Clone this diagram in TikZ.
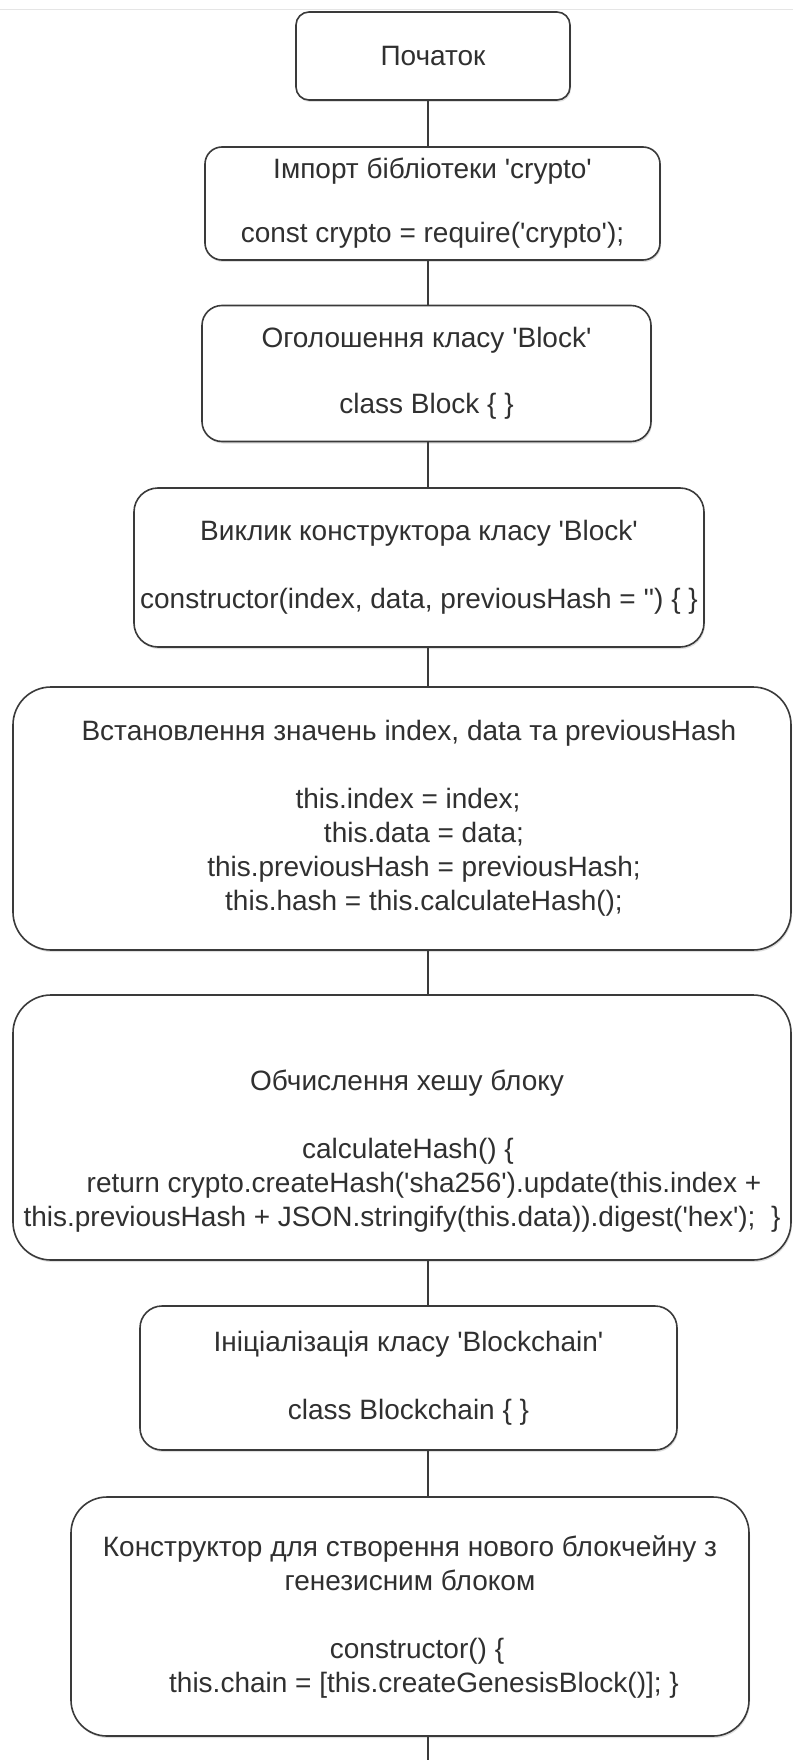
\documentclass[tikz,border=0pt]{standalone}
\usepackage{fontspec}
\setmainfont{Liberation Sans}
\usetikzlibrary{shadows}
\newcommand{\sq}{\textquotesingle}
\definecolor{boxline}{HTML}{3A3A3A}
\definecolor{textgray}{HTML}{303030}
\begin{document}
\begin{tikzpicture}[x=1pt,y=-1pt,
  stepbox/.style={draw=boxline, line width=1.6pt, fill=white, align=center,
    inner sep=0pt, text=textgray, font=\fontsize{28}{34}\selectfont,
    drop shadow={shadow xshift=1pt, shadow yshift=-2pt, opacity=0.25}},
  link/.style={draw=boxline, line width=1.6pt}]
\useasboundingbox (0,0) rectangle (793,1760);
\draw[black!10, line width=1pt] (0,10) -- (793,10);
\coordinate (spine) at (428,0);
\coordinate (tail) at (428,1760);

% flowchart steps, top to bottom
\node[stepbox, minimum width=274pt, minimum height=88pt, rounded corners=13pt] (b1) at (433,56) {Початок};

\node[stepbox, minimum width=455pt, minimum height=113pt, rounded corners=17pt] (b2) at (432.5,203.5)
  {Імпорт бібліотеки \sq crypto\sq\\[30pt]const crypto = require(\sq crypto\sq);};

\node[stepbox, minimum width=449pt, minimum height=136pt, rounded corners=20pt] (b3) at (426.5,373.5)
  {Оголошення класу \sq Block\sq\\[32pt]class Block \{ \}};

\node[stepbox, minimum width=570pt, minimum height=159pt, rounded corners=24pt] (b4) at (419,567.5)
  {Виклик конструктора класу \sq Block\sq\\[34pt]constructor(index, data, previousHash = \sq\sq) \{ \}};

\node[stepbox, minimum width=778pt, minimum height=263pt, rounded corners=38pt] (b5) at (402,818.5)
  {\hspace*{14pt}Встановлення значень index, data та previousHash\\[34pt]
   \hspace*{12pt}this.index = index;\\
   \hspace*{44pt}this.data = data;\\
   \hspace*{44pt}this.previousHash = previousHash;\\
   \hspace*{44pt}this.hash = this.calculateHash();};

\node[stepbox, minimum width=778pt, minimum height=265pt, rounded corners=38pt] (b6) at (402,1127.5)
  {\mbox{}\\[33pt]
   \hspace*{10pt}Обчислення хешу блоку\\[34pt]
   \hspace*{12pt}calculateHash() \{\\
   \hspace*{44pt}return crypto.createHash(\sq sha256\sq).update(this.index +\\
   this.previousHash + JSON.stringify(this.data)).digest(\sq hex\sq);\ \ \}};

\node[stepbox, minimum width=537pt, minimum height=144pt, rounded corners=22pt] (b7) at (408.5,1378)
  {Ініціалізація класу \sq Blockchain\sq\\[34pt]class Blockchain \{ \}};

\node[stepbox, minimum width=678pt, minimum height=239pt, rounded corners=36pt] (b8) at (410,1616.5)
  {Конструктор для створення нового блокчейну з\\
   генезисним блоком\\[34pt]
   \hspace*{14pt}constructor() \{\\
   \hspace*{28pt}this.chain = [this.createGenesisBlock()]; \}};

% connectors along the central spine
\draw[link] (b1.south -| spine) -- (b2.north -| spine);
\draw[link] (b2.south -| spine) -- (b3.north -| spine);
\draw[link] (b3.south -| spine) -- (b4.north -| spine);
\draw[link] (b4.south -| spine) -- (b5.north -| spine);
\draw[link] (b5.south -| spine) -- (b6.north -| spine);
\draw[link] (b6.south -| spine) -- (b7.north -| spine);
\draw[link] (b7.south -| spine) -- (b8.north -| spine);
\draw[link] (b8.south -| spine) -- (tail);
\end{tikzpicture}
\end{document}
